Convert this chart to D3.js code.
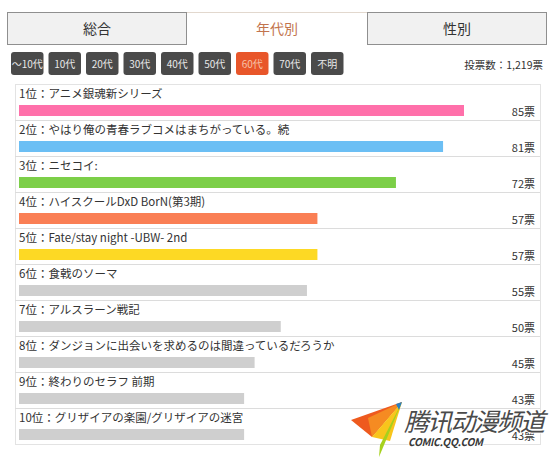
<!DOCTYPE html>
<html>
<head>
<meta charset="utf-8">
<script src="https://cdn.jsdelivr.net/npm/d3@7"></script>
<style>
  html, body { margin: 0; padding: 0; background: #fff; }
  svg { display: block; font-family: "Noto Sans CJK JP", "Noto Sans", sans-serif; }
</style>
</head>
<body>
<svg width="560" height="467"></svg>
<script>
  const tabs = ['総合', '年代別', '性別'];
  const ages = ['〜10代', '10代', '20代', '30代', '40代', '50代', '60代', '70代', '不明'];
  const activeAge = '60代';
  const totalLabel = '投票数：1,219票';

  const titles = [
    'アニメ銀魂新シリーズ',
    'やはり俺の青春ラブコメはまちがっている。続',
    'ニセコイ:',
    'ハイスクールDxD BorN(第3期)',
    'Fate/stay night -UBW- 2nd',
    '食戟のソーマ',
    'アルスラーン戦記',
    'ダンジョンに出会いを求めるのは間違っているだろうか',
    '終わりのセラフ 前期',
    'グリザイアの楽園/グリザイアの迷宮'
  ];
  const votes = [85, 81, 72, 57, 57, 55, 50, 45, 43, 43];
  const barColors = ['#ff70aa', '#6cbff4', '#7ccf48', '#fa7f55', '#fdd924',
    '#cfcfcf', '#cfcfcf', '#cfcfcf', '#cfcfcf', '#cfcfcf'];

  const svg = d3.select('svg');

  // Tabs along the top
  const tabX = d3.scaleBand().domain(tabs).range([7, 547]);
  const tabG = svg.append('g');
  tabG.selectAll('rect').data(tabs).join('rect')
      .attr('x', (d) => tabX(d) + 0.5)
      .attr('y', 12.5)
      .attr('width', tabX.bandwidth() - 1)
      .attr('height', 32)
      .attr('fill', (d) => d === '年代別' ? '#fff' : '#f1f1f1')
      .attr('stroke', (d) => d === '年代別' ? 'none' : '#8f8f8f');
  tabG.append('line')
      .attr('x1', tabX('年代別')).attr('x2', tabX('年代別') + tabX.bandwidth())
      .attr('y1', 12.5).attr('y2', 12.5)
      .attr('stroke', '#e2d8ce');
  tabG.selectAll('text').data(tabs).join('text')
      .attr('x', (d) => tabX(d) + tabX.bandwidth() / 2)
      .attr('y', 34)
      .attr('text-anchor', 'middle')
      .attr('font-size', 14)
      .attr('fill', (d) => d === '年代別' ? '#c2744e' : '#333')
      .text((d) => d);

  // Age buttons
  const ageG = svg.append('g');
  const ageX = (i) => 11 + i * 37.5;
  const btn = ageG.selectAll('g').data(ages).join('g')
      .attr('transform', (d, i) => `translate(${ageX(i)},52)`);
  btn.append('rect')
      .attr('width', 32.5).attr('height', 23).attr('rx', 3)
      .attr('fill', (d) => d === activeAge ? '#e8562a' : '#4a4a4a');
  btn.append('text')
      .attr('x', 16.25).attr('y', 15.5)
      .attr('text-anchor', 'middle')
      .attr('font-size', 10)
      .attr('fill', (d) => d === activeAge ? '#f7c2a8' : '#e8e8e8')
      .text((d) => d);

  svg.append('text')
      .attr('x', 543).attr('y', 69)
      .attr('text-anchor', 'end')
      .attr('font-size', 10.5)
      .attr('fill', '#333')
      .text(totalLabel);

  // Ranking panel
  const left = 15;
  const right = 540;
  const rows = d3.scaleBand().domain(d3.range(titles.length)).range([84, 444]);
  const x = d3.scaleLinear().domain([0, 85]).range([19, 464]);

  const panel = svg.append('g');
  panel.append('rect')
      .attr('x', left + 0.5).attr('y', 84.5)
      .attr('width', right - left).attr('height', 360)
      .attr('fill', '#fff').attr('stroke', '#e3e3e3');

  const row = panel.selectAll('g.row').data(titles).join('g')
      .attr('class', 'row')
      .attr('transform', (d, i) => `translate(0,${rows(i)})`);

  row.filter((d, i) => i > 0).append('line')
      .attr('x1', left).attr('x2', right)
      .attr('y1', 0.5).attr('y2', 0.5)
      .attr('stroke', '#dcdcdc');

  row.append('text')
      .attr('x', 19).attr('y', 14)
      .attr('font-size', 11.5)
      .attr('fill', '#333')
      .text((d, i) => `${i + 1}位：${d}`);

  row.append('rect')
      .attr('x', x(0))
      .attr('y', 21)
      .attr('height', 11)
      .attr('width', (d, i) => x(votes[i]) - x(0))
      .attr('fill', (d, i) => barColors[i]);

  row.append('text')
      .attr('x', 535).attr('y', 32)
      .attr('text-anchor', 'end')
      .attr('font-size', 11)
      .attr('fill', '#333')
      .text((d, i) => `${votes[i]}票`);

  // Watermark
  const wm = svg.append('g');
  wm.append('path')
      .attr('d', 'M351,420 L402,402 L372,437 Z').attr('fill', '#ee5a1e');
  wm.append('path')
      .attr('d', 'M372,437 L402,402 L368,418 Z').attr('fill', '#f58b22');
  wm.append('path')
      .attr('d', 'M372,437 L402,402 L390,441 Z').attr('fill', '#f8c51c');
  wm.append('path')
      .attr('d', 'M380,445 L402,402 L379,457 Z').attr('fill', '#a6d11d');
  wm.append('path')
      .attr('d', 'M396,404 L402,402 L399,410 Z').attr('fill', '#2a7fc0');
  wm.append('text')
      .attr('x', 404).attr('y', 431)
      .attr('font-size', 25)
      .attr('font-style', 'italic')
      .attr('fill', '#4a4a4a')
      .attr('stroke', '#fff').attr('stroke-width', 2)
      .attr('paint-order', 'stroke')
      .attr('textLength', 141)
      .text('腾讯动漫频道');
  wm.append('text')
      .attr('x', 408).attr('y', 446)
      .attr('font-size', 10.5)
      .attr('font-weight', 'bold')
      .attr('font-style', 'italic')
      .attr('fill', '#3a3a3a')
      .attr('stroke', '#fff').attr('stroke-width', 2)
      .attr('paint-order', 'stroke')
      .attr('textLength', 75)
      .text('COMIC.QQ.COM');
</script>
</body>
</html>
